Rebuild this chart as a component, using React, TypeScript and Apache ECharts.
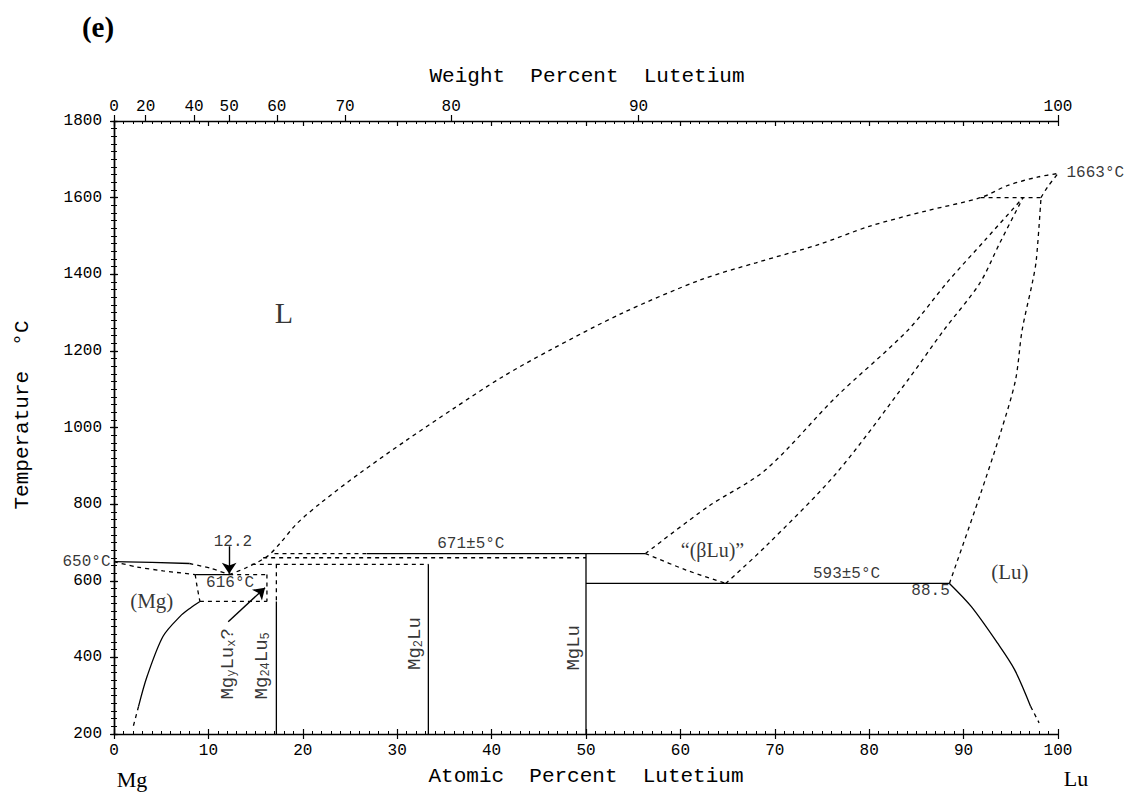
import { useEffect, useRef } from "react";
import * as echarts from "echarts";

// ---- axes ----
const TEMP_MIN = 200;
const TEMP_MAX = 1800;
const TEMP_STEP = 200;
const AT_STEP = 10;
const weightTicks = [0, 20, 40, 50, 60, 70, 80, 90, 100];
const MG_MASS = 24.305;
const LU_MASS = 174.967;

// ---- invariant points (at.% Lu, °C) ----
const MG_MELT = 650;
const LU_MELT = 1663;
const EUTECTIC_X = 12.2;
const EUTECTIC_T = 616;
const PERITECTIC_T = 671;
const EUTECTOID_X = 88.5;
const EUTECTOID_T = 593;
const BETA_T = 1600;
const MG24LU5_X = 17.2;
const MG2LU_X = 33.3;
const MGLU_X = 50;
const MGYLUX_X = 16.2;
const MGYLUX_T = 546;
const MG2LU_T = 643;
const MGLU_T = 660;

// ---- solid boundaries ----
const mgLiquidusSolid = [[0, MG_MELT], [4, 648], [8, 645]];
const eutecticSolid = [[8.6, EUTECTIC_T], [EUTECTIC_X, EUTECTIC_T]];
const mgSolvusSolid = [[9.1, MGYLUX_T], [8.1, 529], [7.0, 507], [5.2, 455], [3.5, 350], [2.6, 272]];
const mg24lu5Solid = [[MG24LU5_X, MGYLUX_T], [MG24LU5_X, TEMP_MIN]];
const mg2luSolid = [[MG2LU_X, MG2LU_T], [MG2LU_X, TEMP_MIN]];
const mgluSolid = [[MGLU_X, PERITECTIC_T], [MGLU_X, TEMP_MIN]];
const peritecticSolid = [[26.8, PERITECTIC_T], [56.3, PERITECTIC_T]];
const eutectoidSolid = [[MGLU_X, EUTECTOID_T], [EUTECTOID_X, EUTECTOID_T]];
const luSolvusSolid = [[EUTECTOID_X, EUTECTOID_T], [90.8, 533], [93.6, 437], [95.4, 368], [97.1, 272]];

// ---- dashed (estimated) boundaries ----
const mgLiquidusDashed = [[8, 645], [10.3, 632], [EUTECTIC_X, EUTECTIC_T]];
const mgSolidus = [[0, MG_MELT], [2.4, 636], [5.2, 626], [8.6, EUTECTIC_T]];
const mgSolvusUpper = [[8.6, EUTECTIC_T], [8.8, 585], [9.1, MGYLUX_T]];
const mgSolvusTail = [[2.6, 272], [2.0, 216]];
const eutecticDashed = [[EUTECTIC_X, EUTECTIC_T], [MGYLUX_X, EUTECTIC_T]];
const mgyluxSide = [[MGYLUX_X, EUTECTIC_T], [MGYLUX_X, MGYLUX_T]];
const mgyluxBase = [[9.1, MGYLUX_T], [MGYLUX_X, MGYLUX_T]];
const mg24lu5Dashed = [[MG24LU5_X, MG2LU_T], [MG24LU5_X, MGYLUX_T]];
const mg2luPeritectic = [[14.6, MG2LU_T], [MG2LU_X, MG2LU_T]];
const mgluPeritectic = [[15.8, MGLU_T], [MGLU_X, MGLU_T]];
const peritecticDashed = [[17.0, PERITECTIC_T], [26.8, PERITECTIC_T]];
const liquidus = [
  [EUTECTIC_X, EUTECTIC_T], [14.0, 634], [16.2, 663], [17.6, 698], [19.4, 750], [22, 805],
  [26, 880], [31, 967], [36, 1050], [41, 1130], [46.2, 1202], [53.8, 1298], [62.1, 1385],
  [68, 1430], [74.7, 1478], [80, 1525], [86, 1565], [91.8, BETA_T], [94.7, 1632],
  [97.9, 1654], [100, LU_MELT],
];
const betaLowerLeft = [[56.3, PERITECTIC_T], [60.6, 628], [64.8, EUTECTOID_T]];
const betaUpper = [
  [56.3, PERITECTIC_T], [62.9, 793], [69.0, 889], [76.5, 1080], [84.1, 1254], [88.3, 1380],
  [92.3, 1490], [96.3, BETA_T],
];
const betaLower = [
  [64.8, EUTECTOID_T], [69.0, 689], [76.5, 880], [84.1, 1124], [87.9, 1254], [91.7, 1376],
  [93.8, 1480], [96.3, BETA_T],
];
const luBoundary = [
  [EUTECTOID_X, EUTECTOID_T], [91.7, 820], [94.0, 993], [95.5, 1124], [96.2, 1254],
  [97.3, 1380], [97.7, 1437], [98.2, BETA_T],
];
const luSolidus = [[98.2, BETA_T], [98.9, 1628], [100, LU_MELT]];
const betaPeritectic = [[91.8, BETA_T], [98.2, BETA_T]];
const luSolvusTail = [[97.1, 272], [98.0, 229]];

// ---- arrows ----
const eutecticArrow = [[EUTECTIC_X, 690], [EUTECTIC_X, 618]];
const mgyluxArrow = [[12.1, 493], [16.0, 582]];

const INK = "#000";
const MONO = "'Liberation Mono', 'DejaVu Sans Mono', monospace";
const SERIF = "'Liberation Serif', 'DejaVu Serif', serif";

const wtToAt = (w: number) => {
  const lu = w / LU_MASS;
  const mg = (100 - w) / MG_MASS;
  return (100 * lu) / (lu + mg);
};
const weightPositions = weightTicks.map(wtToAt);

const boundary = (data: number[][], dashed: boolean, smooth: number | boolean = false) => ({
  type: "line",
  xAxisIndex: 0,
  yAxisIndex: 0,
  data,
  smooth,
  showSymbol: false,
  symbol: "none",
  silent: true,
  z: 3,
  lineStyle: { color: INK, width: 1.3, type: dashed ? [4, 4] : "solid" },
});

const formula = {
  b: { fontFamily: MONO, fontSize: 19, color: INK },
  s: { fontFamily: MONO, fontSize: 12, color: INK, padding: [7, 0, 0, 0] },
};

const note = (text: string, at: number[], extra: any = {}) => ({
  value: at,
  label: {
    show: true,
    position: "inside",
    formatter: text,
    fontFamily: MONO,
    fontSize: 16,
    color: INK,
    ...extra,
  },
});

const notes = [
  note(`${EUTECTIC_X}`, [12.6, 702]),
  note(`${EUTECTIC_T}°C`, [12.3, 594]),
  note(`${PERITECTIC_T}±5°C`, [37.8, 696]),
  note(`${EUTECTOID_T}±5°C`, [77.6, 618]),
  note(`${EUTECTOID_X}`, [86.5, 572]),
  note(`${MG_MELT}°C`, [0, MG_MELT], { position: "left", distance: 3 }),
  note(`${LU_MELT}°C`, [100, LU_MELT], { position: "right", distance: 8 }),
  note("L", [18.0, 1300], { fontFamily: SERIF, fontSize: 30 }),
  note("(Mg)", [4.0, 548], { fontFamily: SERIF, fontSize: 21 }),
  note("(Lu)", [94.9, 623], { fontFamily: SERIF, fontSize: 21 }),
  note("\u201C(\u03B2Lu)\u201D", [63.4, 681], { fontFamily: SERIF, fontSize: 20 }),
  note("{b|Mg}{s|y}{b|Lu}{s|x}{b|?}", [12.1, 383], { rotate: 90, rich: formula }),
  note("{b|Mg}{s|24}{b|Lu}{s|5}", [15.7, 378], { rotate: 90, rich: formula }),
  note("{b|Mg}{s|2}{b|Lu}", [31.9, 436], { rotate: 90, rich: formula }),
  note("{b|MgLu}", [48.7, 425], { rotate: 90, rich: formula }),
];

const arrow = (pts: number[][]) => [{ coord: pts[0] }, { coord: pts[1] }];

const plainAxisLine = { lineStyle: { color: INK, width: 1.4 } };
const tickStyle = { lineStyle: { color: INK, width: 1.2 } };
const minorStyle = { show: true, splitNumber: 10, length: 3, lineStyle: { color: INK, width: 1 } };

const innerX = (position: string) => ({
  gridIndex: 1,
  type: "value",
  position,
  min: 0,
  max: 100,
  interval: AT_STEP,
  axisLine: { show: false },
  axisTick: { show: true, inside: true, length: 5, ...tickStyle },
  minorTick: minorStyle,
  axisLabel: { show: false },
  splitLine: { show: false },
});

const innerY = (position: string) => ({
  gridIndex: 1,
  type: "value",
  position,
  min: TEMP_MIN,
  max: TEMP_MAX,
  interval: TEMP_STEP,
  axisLine: { show: false },
  axisTick: { show: true, inside: true, length: 3, ...tickStyle },
  minorTick: minorStyle,
  axisLabel: { show: false },
  splitLine: { show: false },
});

const option: any = {
  animation: false,
  backgroundColor: "#fff",
  grid: [
    { left: 114, right: 77, top: 121, bottom: 60 },
    { left: 114, right: 77, top: 121, bottom: 60 },
  ],
  xAxis: [
    {
      gridIndex: 0,
      type: "value",
      position: "bottom",
      min: 0,
      max: 100,
      interval: AT_STEP,
      axisLine: plainAxisLine,
      axisTick: { length: 5, ...tickStyle },
      axisLabel: { fontFamily: MONO, fontSize: 16, color: INK, margin: 9 },
      splitLine: { show: false },
    },
    {
      gridIndex: 0,
      type: "value",
      position: "top",
      min: 0,
      max: 100,
      axisLine: plainAxisLine,
      axisTick: { length: 6, customValues: weightPositions, ...tickStyle },
      axisLabel: {
        customValues: weightPositions,
        fontFamily: MONO,
        fontSize: 16,
        color: INK,
        margin: 6,
        formatter: (v: number) => {
          const i = weightPositions.findIndex((p) => Math.abs(p - v) < 1e-6);
          return i >= 0 ? String(weightTicks[i]) : "";
        },
      },
      splitLine: { show: false },
    },
    innerX("bottom"),
    innerX("top"),
  ],
  yAxis: [
    {
      gridIndex: 0,
      type: "value",
      position: "left",
      min: TEMP_MIN,
      max: TEMP_MAX,
      interval: TEMP_STEP,
      axisLine: plainAxisLine,
      axisTick: { length: 4, ...tickStyle },
      axisLabel: { fontFamily: MONO, fontSize: 16, color: INK, margin: 12, formatter: (v: number) => String(v) },
      splitLine: { show: false },
    },
    {
      gridIndex: 0,
      type: "value",
      position: "right",
      min: TEMP_MIN,
      max: TEMP_MAX,
      interval: TEMP_STEP,
      axisLine: plainAxisLine,
      axisTick: { length: 4, ...tickStyle },
      axisLabel: { show: false },
      splitLine: { show: false },
    },
    innerY("left"),
    innerY("right"),
  ],
  series: [
    boundary(mgLiquidusSolid, false),
    boundary(eutecticSolid, false),
    boundary(mgSolvusSolid, false, 0.3),
    boundary(mg24lu5Solid, false),
    boundary(mg2luSolid, false),
    boundary(mgluSolid, false),
    boundary(peritecticSolid, false),
    boundary(luSolvusSolid, false, 0.3),
    boundary(mgLiquidusDashed, true, 0.3),
    boundary(mgSolidus, true, 0.3),
    boundary(mgSolvusUpper, true, 0.3),
    boundary(mgSolvusTail, true),
    boundary(eutecticDashed, true),
    boundary(mgyluxSide, true),
    boundary(mgyluxBase, true),
    boundary(mg24lu5Dashed, true),
    boundary(mg2luPeritectic, true),
    boundary(mgluPeritectic, true),
    boundary(peritecticDashed, true),
    boundary(liquidus, true, 0.3),
    boundary(betaLowerLeft, true, 0.3),
    boundary(betaUpper, true, 0.3),
    boundary(betaLower, true, 0.3),
    boundary(luBoundary, true, 0.3),
    boundary(luSolidus, true, 0.3),
    boundary(betaPeritectic, true),
    boundary(luSolvusTail, true),
    {
      ...boundary(eutectoidSolid, false),
      markLine: {
        silent: true,
        symbol: ["none", "arrow"],
        symbolSize: 11,
        label: { show: false },
        lineStyle: { color: INK, width: 1.4, type: "solid" },
        data: [arrow(eutecticArrow), arrow(mgyluxArrow)],
      },
    },
    {
      type: "scatter",
      xAxisIndex: 0,
      yAxisIndex: 0,
      symbolSize: 1,
      clip: false,
      silent: true,
      z: 5,
      itemStyle: { color: "rgba(0,0,0,0)" },
      data: notes,
    },
    // empty series so the frame's inner tick axes are laid out
    { type: "line", xAxisIndex: 2, yAxisIndex: 2, data: [], silent: true },
    { type: "line", xAxisIndex: 3, yAxisIndex: 3, data: [], silent: true },
  ],
  graphic: [
    {
      type: "text",
      x: 98,
      y: 27,
      style: { text: "(e)", fontFamily: SERIF, fontSize: 29, fontWeight: "bold", fill: "#000", align: "center", verticalAlign: "middle" },
    },
    {
      type: "text",
      x: 587,
      y: 76,
      style: { text: "Weight  Percent  Lutetium", fontFamily: MONO, fontSize: 21, fill: INK, align: "center", verticalAlign: "middle" },
    },
    {
      type: "text",
      x: 586,
      y: 776,
      style: { text: "Atomic  Percent  Lutetium", fontFamily: MONO, fontSize: 21, fill: INK, align: "center", verticalAlign: "middle" },
    },
    {
      type: "text",
      x: 22,
      y: 415,
      rotation: Math.PI / 2,
      style: { text: "Temperature  °C", fontFamily: MONO, fontSize: 21, fill: INK, align: "center", verticalAlign: "middle" },
    },
    {
      type: "text",
      x: 132,
      y: 779,
      style: { text: "Mg", fontFamily: SERIF, fontSize: 22, fill: INK, align: "center", verticalAlign: "middle" },
    },
    {
      type: "text",
      x: 1076,
      y: 778,
      style: { text: "Lu", fontFamily: SERIF, fontSize: 22, fill: INK, align: "center", verticalAlign: "middle" },
    },
  ],
};

export default function App() {
  const ref = useRef<HTMLDivElement>(null);
  useEffect(() => {
    const chart = echarts.init(ref.current!, null, { renderer: "svg" });
    chart.setOption(option);
    return () => chart.dispose();
  }, []);
  return (
    <div
      ref={ref}
      style={{ position: "absolute", left: 0, top: 0, width: 1135, height: 794, background: "#fff" }}
    />
  );
}
